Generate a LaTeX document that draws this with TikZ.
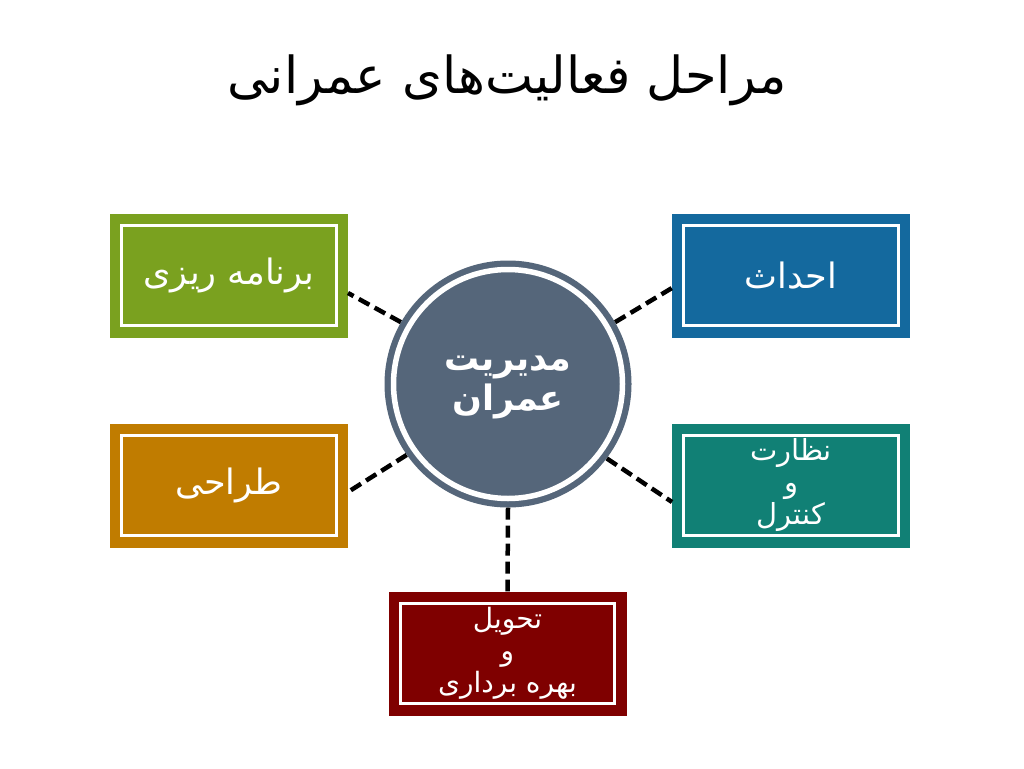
\documentclass[tikz,border=0pt]{standalone}
\usepackage{fontspec}
\TeXXeTstate=1
\newfontfamily\arabicfont[Script=Arabic]{DejaVu Sans}
\usetikzlibrary{calc}
\definecolor{cgreen}{RGB}{122,161,31}
\definecolor{cblue}{RGB}{20,105,158}
\definecolor{corange}{RGB}{192,124,0}
\definecolor{cteal}{RGB}{17,128,117}
\definecolor{cred}{RGB}{127,0,0}
\definecolor{cgray}{RGB}{85,102,122}
\tikzset{
  stagebox/.style={fill=#1, minimum width=238pt, minimum height=124pt, inner sep=0pt,
    text=white, font=\arabicfont\fontsize{35}{38}\selectfont, align=center},
  innerframe/.style={draw=white, line width=3pt},
  conn/.style={draw=black, line width=4.5pt, dash pattern=on 12pt off 6pt},
}
\begin{document}
\begin{tikzpicture}[x=1pt,y=-1pt]
\useasboundingbox (0,0) rectangle (1024,768);
\fill[white] (0,0) rectangle (1024,768);

\node[font=\arabicfont\fontsize{51}{56}\selectfont] (title) at (507,80) {\beginR مراحل فعالیت‌های عمرانی\endR};

\node[circle, fill=cgray, minimum size=247pt, inner sep=0pt] (c) at (508,384) {};
\draw[white, line width=5.5pt] (c.center) circle[radius=114.5];
\node[text=white, font=\arabicfont\bfseries\fontsize{35}{40}\selectfont, align=center] (ctext) at (508,388)
      {\beginR مدیریت\endR\\\beginR عمران\endR};

\node[stagebox=cgreen] (plan) at (229,275.5) {\beginR برنامه ریزی\endR};
\node[stagebox=cblue] (build) at (791,275.5) {\beginR احداث\endR};
\node[stagebox=corange] (design) at (229,485.5) {\beginR طراحی\endR};
\node[stagebox=cteal, font=\arabicfont\fontsize{29}{32}\selectfont] (control) at (791,485.5)
  {\beginR نظارت\endR\\\beginR و\endR\\\beginR کنترل\endR};
\node[stagebox=cred, font=\arabicfont\fontsize{28}{32}\selectfont] (deliver) at (507.5,653.5)
  {\beginR تحویل\endR\\\beginR و\endR\\\beginR بهره برداری\endR};

\foreach \n in {plan,build,design,control,deliver}{
  \draw[innerframe] ($(\n.north west)+(12,12)$) rectangle ($(\n.south east)+(-12,-12)$);
}

\coordinate (p1) at (348,293);
\coordinate (p2) at (672,288);
\coordinate (p3) at (348,492);
\coordinate (p4) at (672,502);
\draw[conn] (c.150) -- (p1);
\draw[conn] (c.30) -- (p2);
\draw[conn] (c.215) -- (p3);
\draw[conn] (c.-37) -- (p4);
\draw[conn] (c.south) -- (deliver.north);
\end{tikzpicture}
\end{document}
